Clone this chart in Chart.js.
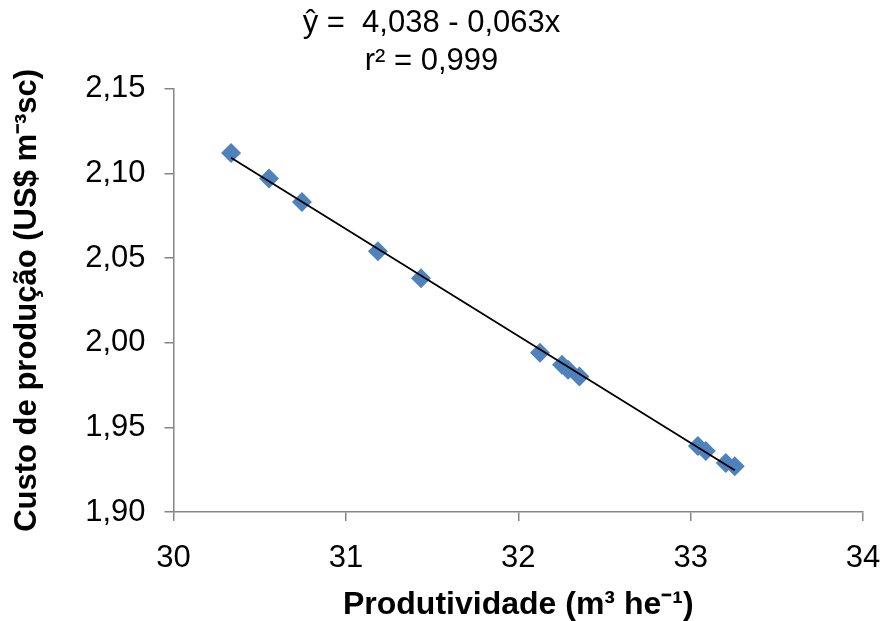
<!DOCTYPE html>
<html>
<head>
<meta charset="utf-8">
<script src="https://cdn.jsdelivr.net/npm/chart.js@4.4.1/dist/chart.umd.min.js"></script>
<style>
  html, body { margin: 0; padding: 0; background: #fff; }
  #wrap { width: 884px; height: 621px; }
</style>
</head>
<body>
<div id="wrap"><canvas id="chart" width="884" height="621"></canvas></div>
<script>
// --- Data ---
const produtividade = [30.334, 30.554, 30.745, 31.186, 31.436, 32.126, 32.254, 32.289, 32.355, 33.042, 33.088, 33.204, 33.256];
const custo = [2.112, 2.097, 2.083, 2.054, 2.038, 1.994, 1.987, 1.984, 1.980, 1.939, 1.936, 1.929, 1.927];
const titleLines = ['ŷ =  4,038 - 0,063x', 'r² = 0,999'];
const xTicks = [30, 31, 32, 33, 34];
const yTicks = [1.90, 1.95, 2.00, 2.05, 2.10, 2.15];

const AXIS = '#868686';
const BLUE = '#4F81BD';
const FONT = '"Liberation Sans", Arial, sans-serif';

// least squares trend line over the points
function fit(xs, ys) {
  const n = xs.length;
  const mx = xs.reduce((s, v) => s + v, 0) / n;
  const my = ys.reduce((s, v) => s + v, 0) / n;
  let num = 0, den = 0;
  xs.forEach((x, i) => { num += (x - mx) * (ys[i] - my); den += (x - mx) * (x - mx); });
  const b = num / den;
  return { a: my - b * mx, b };
}
const { a, b } = fit(produtividade, custo);
const xMin = Math.min(...produtividade), xMax = Math.max(...produtividade);
const trend = [{ x: xMin, y: a + b * xMin }, { x: xMax, y: a + b * xMax }];

const points = produtividade.map((x, i) => ({ x, y: custo[i] }));
const fmt = v => v.toFixed(2).replace('.', ',');

new Chart(document.getElementById('chart'), {
  type: 'scatter',
  data: {
    datasets: [
      { data: points, pointStyle: 'rectRot', pointRadius: 10, pointHoverRadius: 10,
        backgroundColor: BLUE, borderColor: BLUE, borderWidth: 0, order: 2 },
      { type: 'line', data: trend, borderColor: '#000', borderWidth: 1.8, pointRadius: 0,
        fill: false, tension: 0, order: 1 }
    ]
  },
  options: {
    responsive: false,
    animation: false,
    layout: { padding: { left: 0, right: 21, top: 0, bottom: 0 } },
    plugins: {
      legend: { display: false },
      tooltip: { enabled: false },
      title: {
        display: true, text: titleLines, color: '#000',
        font: { family: FONT, size: 31, weight: 'normal', lineHeight: 1.22 },
        padding: { top: 5, bottom: 8 }
      }
    },
    scales: {
      x: {
        type: 'linear', min: 30, max: 34,
        afterBuildTicks: s => { s.ticks = xTicks.map(v => ({ value: v })); },
        afterFit: s => { s.height = 109; s.paddingLeft = 0; s.paddingRight = 0; },
        grid: { drawOnChartArea: false, drawTicks: true, tickLength: 9, color: AXIS, lineWidth: 1.5 },
        border: { color: AXIS, width: 1.5 },
        ticks: { color: '#000', font: { family: FONT, size: 31 }, padding: 19, maxRotation: 0 },
        title: { display: true, text: 'Produtividade (m³ he⁻¹)', color: '#000',
          font: { family: FONT, size: 32, weight: 'bold', lineHeight: 1.0 }, padding: { top: 0, bottom: 0 } }
      },
      y: {
        type: 'linear', min: 1.90, max: 2.15,
        afterBuildTicks: s => { s.ticks = yTicks.map(v => ({ value: v })); },
        afterFit: s => { s.width = 173.5; s.paddingTop = 0; s.paddingBottom = 0; },
        grid: { drawOnChartArea: false, drawTicks: true, tickLength: 9, color: AXIS, lineWidth: 1.5 },
        border: { color: AXIS, width: 1.5 },
        ticks: { color: '#000', font: { family: FONT, size: 31 }, padding: 19, callback: v => fmt(v) },
        title: { display: true, text: 'Custo de produção (US$ m⁻³sc)', color: '#000',
          font: { family: FONT, size: 31, weight: 'bold', lineHeight: 1.2 }, padding: { top: 9, bottom: 0 } }
      }
    }
  }
});
</script>
</body>
</html>
